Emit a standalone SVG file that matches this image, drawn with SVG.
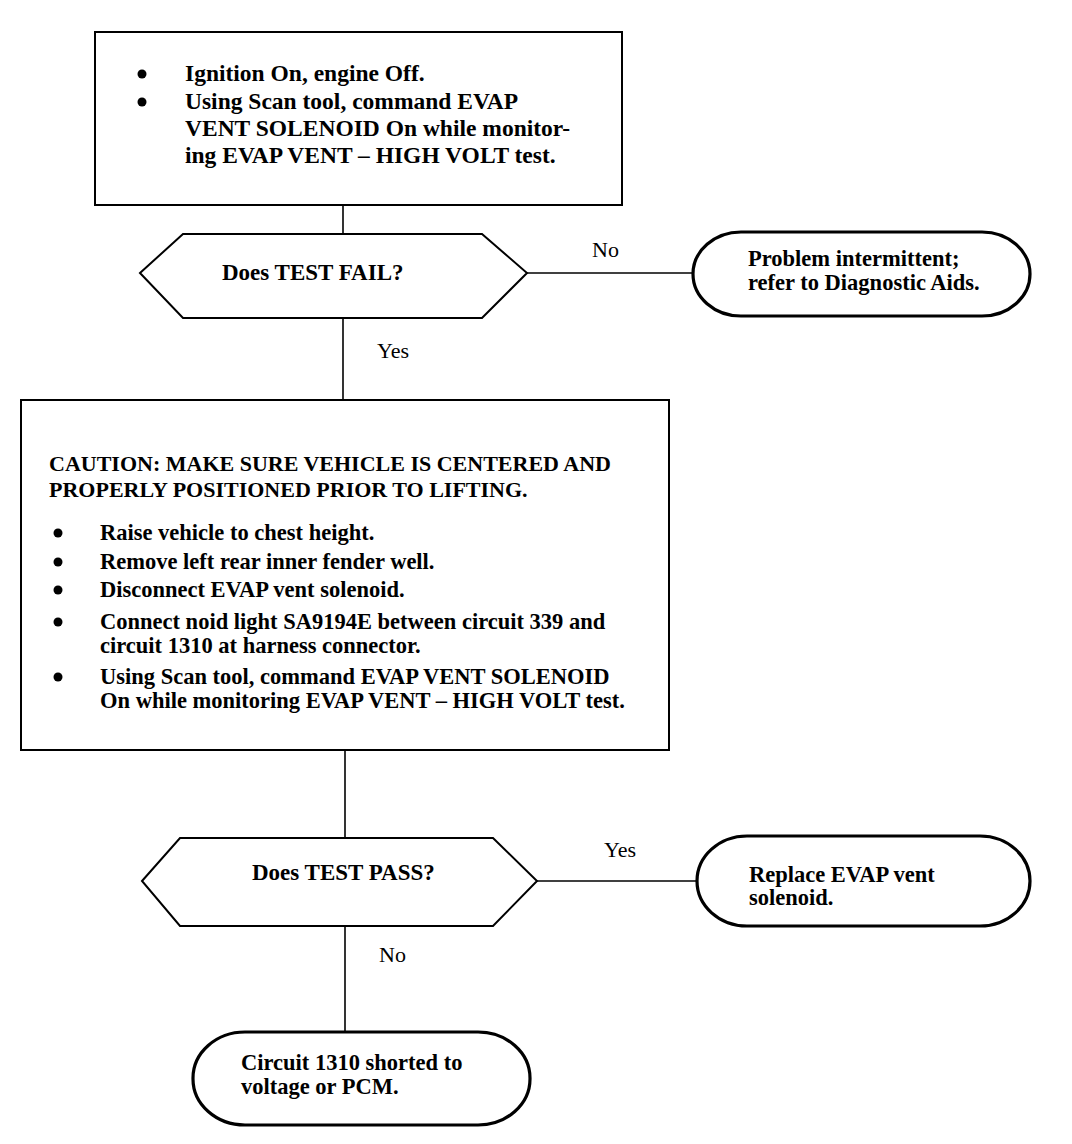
<svg xmlns="http://www.w3.org/2000/svg" width="1072" height="1144" viewBox="0 0 1072 1144">
<style>
text{font-family:"Liberation Serif","Times New Roman",serif;font-size:22.5px;font-weight:bold;fill:#000}
.lbl{font-weight:normal;font-size:22px}
.top{font-size:23.5px}
.dec{font-size:23px}
.cau{font-size:22px}
.box{fill:#fff;stroke:#000;stroke-width:2}
.term{fill:#fff;stroke:#000;stroke-width:3.2}
.conn line{stroke:#000;stroke-width:1.6}
.dot{fill:#000}
</style>
<rect width="1072" height="1144" fill="#fff"/>
<g class="conn" id="connectors">
<line x1="343" y1="205" x2="343" y2="234"/>
<line x1="527" y1="273" x2="693" y2="273"/>
<line x1="343" y1="318" x2="343" y2="400"/>
<line x1="345" y1="750" x2="345" y2="838"/>
<line x1="537" y1="881" x2="697" y2="881"/>
<line x1="345" y1="926" x2="345" y2="1032"/>
<text class="lbl" x="592" y="257">No</text>
<text class="lbl" x="377" y="358">Yes</text>
<text class="lbl" x="604" y="857">Yes</text>
<text class="lbl" x="379" y="962">No</text>
</g>
<g id="step1">
<rect class="box" x="95" y="32" width="527" height="173"/>
<circle class="dot" cx="142" cy="74" r="4.5"/>
<circle class="dot" cx="142" cy="102" r="4.5"/>
<text class="top" x="185" y="81">Ignition On, engine Off.</text>
<text class="top" x="185" y="109">Using Scan tool, command EVAP</text>
<text class="top" x="185" y="136">VENT SOLENOID On while monitor-</text>
<text class="top" x="185" y="163">ing EVAP VENT – HIGH VOLT test.</text>
</g>
<g id="decision1">
<polygon class="box" points="140,273 183,234 482,234 527,273 482,318 183,318"/>
<text class="dec" x="222" y="280">Does TEST FAIL?</text>
</g>
<g id="end1">
<rect class="term" x="693" y="232" width="337" height="84" rx="48" ry="42"/>
<text x="748" y="266">Problem intermittent;</text>
<text x="748" y="290">refer to Diagnostic Aids.</text>
</g>
<g id="step2">
<rect class="box" x="21" y="400" width="648" height="350"/>
<text class="cau" x="49" y="471">CAUTION: MAKE SURE VEHICLE IS CENTERED AND</text>
<text class="cau" x="49" y="497">PROPERLY POSITIONED PRIOR TO LIFTING.</text>
<circle class="dot" cx="58" cy="533" r="4.5"/>
<circle class="dot" cx="58" cy="562" r="4.5"/>
<circle class="dot" cx="58" cy="590" r="4.5"/>
<circle class="dot" cx="58" cy="622" r="4.5"/>
<circle class="dot" cx="58" cy="677" r="4.5"/>
<text x="100" y="540">Raise vehicle to chest height.</text>
<text x="100" y="569">Remove left rear inner fender well.</text>
<text x="100" y="597">Disconnect EVAP vent solenoid.</text>
<text x="100" y="629">Connect noid light SA9194E between circuit 339 and</text>
<text x="100" y="653">circuit 1310 at harness connector.</text>
<text x="100" y="684">Using Scan tool, command EVAP VENT SOLENOID</text>
<text x="100" y="708">On while monitoring EVAP VENT – HIGH VOLT test.</text>
</g>
<g id="decision2">
<polygon class="box" points="142,881 180,838 493,838 537,881 493,926 180,926"/>
<text class="dec" x="252" y="880">Does TEST PASS?</text>
</g>
<g id="end2">
<rect class="term" x="697" y="836" width="333" height="90" rx="50" ry="45"/>
<text x="749" y="882">Replace EVAP vent</text>
<text x="749" y="905">solenoid.</text>
</g>
<g id="end3">
<rect class="term" x="193" y="1032" width="337" height="93" rx="52" ry="46"/>
<text x="241" y="1070">Circuit 1310 shorted to</text>
<text x="241" y="1094">voltage or PCM.</text>
</g>
</svg>
